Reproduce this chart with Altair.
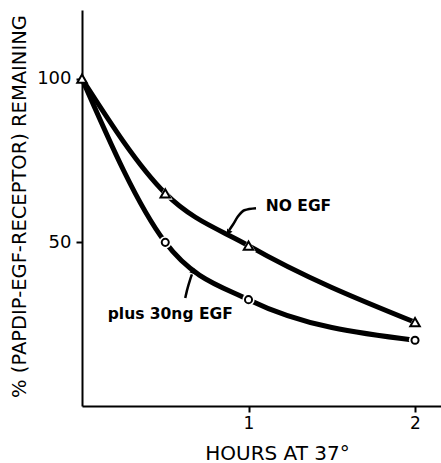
import altair as alt
import pandas as pd

# data
hours = [0, 0.5, 1, 2]
no_egf = [100, 65, 49, 25.6]
plus_egf = [100, 50, 32.5, 20.1]

x_ticks = [1, 2]
y_ticks = [50, 100]

# annotation labels and leader arrows (data units)
label_text = ["NO EGF", "plus 30ng EGF"]
label_x = [1.30, 0.53]
label_y = [61, 28]

arrow1_x = [1.045, 0.975, 0.935, 0.905, 0.885]
arrow1_y = [60.4, 59.8, 57.8, 55.3, 53.8]
arrow2_x = [0.62, 0.633, 0.648, 0.66]
arrow2_y = [33.0, 35.8, 38.4, 40.2]
head_x = [0.879, 0.668]
head_y = [53.0, 41.3]
head_angle = [211, 22]

FONT = "DejaVu Sans"

df = pd.DataFrame({
    "hours": hours * 2,
    "pct": no_egf + plus_egf,
    "series": ["NO EGF"] * 4 + ["plus 30ng EGF"] * 4,
})
tri = df[df.series == "NO EGF"]
circ = df[df.series == "plus 30ng EGF"]

xs = alt.Scale(domain=[0, 2.156], nice=False, zero=False)
ys = alt.Scale(domain=[0, 121], nice=False, zero=False)

X = alt.X("hours:Q", scale=xs, axis=alt.Axis(
    values=x_ticks, format="d", title="HOURS AT 37°", grid=False, domainColor="black",
    domainWidth=2, tickColor="black", tickWidth=2, tickSize=6, labelFont=FONT,
    labelFontSize=17, labelColor="black", labelPadding=3,
    titleFont=FONT, titleFontSize=20, titleFontWeight="normal", titleColor="black",
    titleX=195, titleY=53, titleAlign="center", titleBaseline="alphabetic"))
Y = alt.Y("pct:Q", scale=ys, axis=alt.Axis(
    values=y_ticks, format="d", title="% (PAPDIP-EGF-RECEPTOR) REMAINING", grid=False,
    domainColor="black", domainWidth=2, tickColor="black", tickWidth=2, tickSize=6,
    labelFont=FONT, labelFontSize=18, labelColor="black", labelPadding=5,
    titleFont=FONT, titleFontSize=19.5, titleFontWeight="normal", titleColor="black",
    titleX=-63, titleY=196, titleAlign="center", titleBaseline="middle"))

lines = alt.Chart(df).mark_line(interpolate="monotone", color="black", strokeWidth=5).encode(
    x=X, y=Y, detail="series:N")

halo_t = alt.Chart(tri[tri.hours > 0]).mark_point(shape="triangle-up", filled=True, color="white", size=220, opacity=1).encode(
    x="hours:Q", y="pct:Q")
halo_c = alt.Chart(circ[circ.hours > 0]).mark_point(shape="circle", filled=True, color="white", size=150, opacity=1).encode(
    x="hours:Q", y="pct:Q")
pts_t = alt.Chart(tri).mark_point(shape="triangle-up", filled=False, stroke="black", fill="white",
                                   strokeWidth=2, size=90, opacity=1).encode(x="hours:Q", y="pct:Q")
pts_c = alt.Chart(circ[circ.hours > 0]).mark_point(shape="circle", filled=False, stroke="black", fill="white",
                                   strokeWidth=2, size=50, opacity=1).encode(x="hours:Q", y="pct:Q")

lab = alt.Chart(pd.DataFrame({"t": label_text, "x": label_x, "y": label_y})).mark_text(
    font=FONT, fontSize=15.5, fontWeight="bold", color="black", align="center", baseline="middle").encode(
    x="x:Q", y="y:Q", text="t:N")

a1 = alt.Chart(pd.DataFrame({"x": arrow1_x, "y": arrow1_y, "o": list(range(len(arrow1_x)))})).mark_line(
    interpolate="monotone", color="black", strokeWidth=2.5).encode(x="x:Q", y="y:Q", order="o:Q")
a2 = alt.Chart(pd.DataFrame({"x": arrow2_x, "y": arrow2_y, "o": list(range(len(arrow2_x)))})).mark_line(
    interpolate="monotone", color="black", strokeWidth=2.5).encode(x="x:Q", y="y:Q", order="o:Q")
heads = alt.Chart(pd.DataFrame({"x": head_x, "y": head_y, "a": head_angle})).mark_point(
    shape="triangle-up", filled=True, color="black", size=40, opacity=1).encode(
    x="x:Q", y="y:Q", angle=alt.Angle("a:Q", scale=None))

chart = alt.layer(lines, halo_t, halo_c, pts_t, pts_c, a1, a2, heads, lab).properties(
    width=359, height=396, autosize="none", background="white",
    padding={"left": 82, "top": 10, "right": 0, "bottom": 57},
).configure_view(strokeWidth=0, stroke=None)

chart.save("out.html", embed_options={"renderer": "svg", "actions": False})
